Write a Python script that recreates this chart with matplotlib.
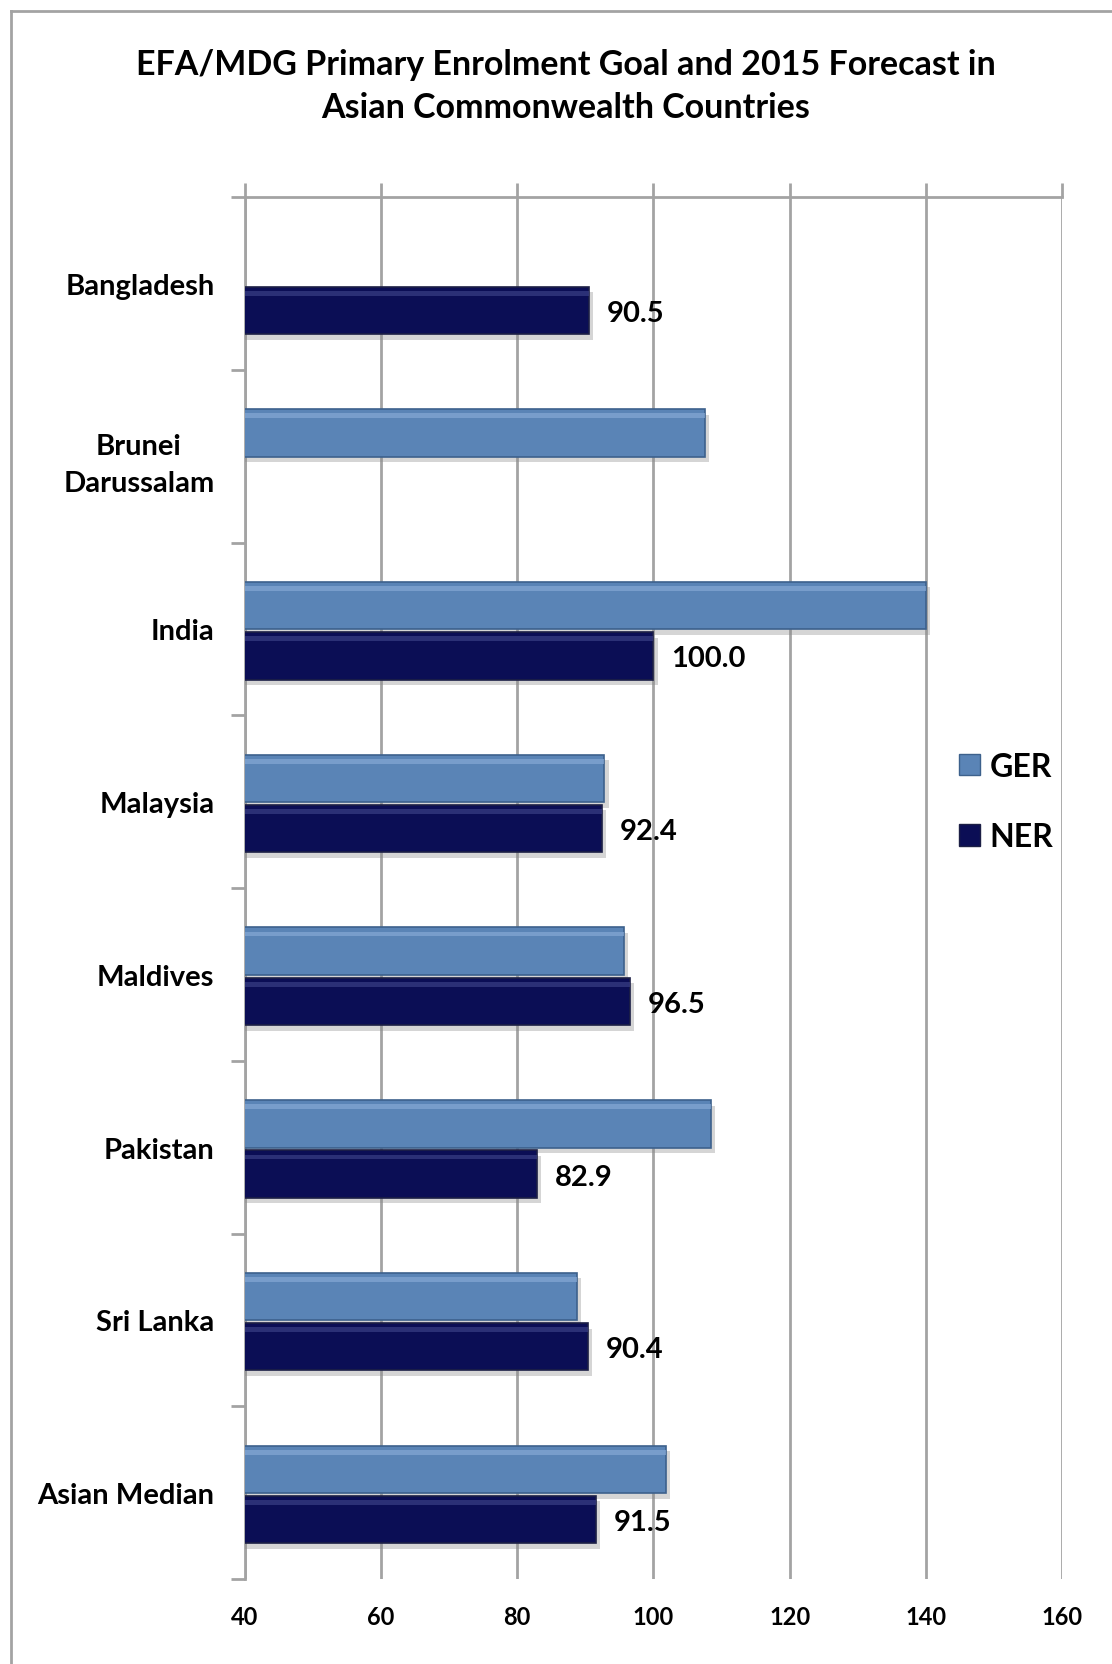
import numpy as np
import matplotlib
matplotlib.use("Agg")
from matplotlib import pyplot as plt
from matplotlib import patheffects as pe
from matplotlib.patches import Patch
from matplotlib.lines import Line2D

# data
countries = ['Bangladesh', 'Brunei\nDarussalam', 'India', 'Malaysia', 'Maldives',
             'Pakistan', 'Sri Lanka', 'Asian Median']
ger = [np.nan, 107.6, 140.0, 92.8, 95.7, 108.4, 88.7, 101.8]
ner = [90.5, np.nan, 100.0, 92.4, 96.5, 82.9, 90.4, 91.5]
ner_labels = ['90.5', '', '100.0', '92.4', '96.5', '82.9', '90.4', '91.5']
xticks = [40, 60, 80, 100, 120, 140, 160]

ger_col = '#5a84b6'
ner_col = '#0b0e55'
grid_col = '#a3a3a3'

plt.rcParams['font.family'] = ['Lato', 'DejaVu Sans']
plt.rcParams['font.weight'] = 'bold'

fig = plt.figure(figsize=(11.12, 16.65), dpi=100)
ax = fig.add_axes([0.2203, 0.051, 0.7347, 0.830])

y = np.arange(len(countries))
h = 0.275
shadow = [pe.SimplePatchShadow(offset=(3, -4), shadow_rgbFace='#888888', alpha=0.35), pe.Normal()]

b1 = ax.barh(y - 0.135, ger, height=h, color=ger_col, edgecolor='#3d618c', linewidth=1.2, zorder=3)
b2 = ax.barh(y + 0.155, ner, height=h, color=ner_col, edgecolor='#1c1f45', linewidth=1.2, zorder=3)
for b in list(b1) + list(b2):
    b.set_path_effects(shadow)
# bevel highlight strips
ax.barh(y - 0.135 - h * 0.36, ger, height=h * 0.1, color='#86a8d4', alpha=0.7, linewidth=0, zorder=4)
ax.barh(y + 0.155 - h * 0.36, ner, height=h * 0.1, color='#3a3f85', alpha=0.7, linewidth=0, zorder=4)

for yi, v, s in zip(y, ner, ner_labels):
    if s:
        ax.text(v + 2.6, yi + 0.17, s, fontsize=21, fontweight='bold', va='center', ha='left', zorder=5)

ax.set_xlim(40, 160)
ax.set_ylim(len(countries) - 0.5, -0.5)
ax.set_xticks(xticks)
ax.set_xticklabels([str(t) for t in xticks], fontsize=17, fontweight='bold')
ax.set_yticks(y)
ax.set_yticklabels(countries, fontsize=21, fontweight='bold')
for lab in ax.get_yticklabels():
    lab.set_multialignment('center')
    lab.set_linespacing(1.55)
ax.set_yticks(np.arange(len(countries) + 1) - 0.5, minor=True)

ax.tick_params(axis='x', bottom=False, top=True, labelbottom=True, labeltop=False,
               direction='out', length=10, width=2, color=grid_col, pad=9)
ax.tick_params(axis='y', which='major', length=0, pad=22)
ax.tick_params(axis='y', which='minor', length=10, width=2, color=grid_col, direction='out')

ax.grid(axis='x', color=grid_col, linewidth=2, zorder=0)
ax.set_axisbelow(True)
for s in ['bottom', 'right']:
    ax.spines[s].set_visible(False)
for s in ['top', 'left']:
    ax.spines[s].set_color(grid_col)
    ax.spines[s].set_linewidth(2)

fig.text(0.509, 0.948, 'EFA/MDG Primary Enrolment Goal and 2015 Forecast in\nAsian Commonwealth Countries',
         ha='center', va='center', fontsize=24.5, fontweight='bold', linespacing=1.45)

handles = [Patch(facecolor=ger_col, edgecolor='#3d618c'), Patch(facecolor=ner_col, edgecolor='#1c1f45')]
fig.legend(handles, ['GER', 'NER'], loc='center left', bbox_to_anchor=(0.837, 0.518),
           frameon=False, fontsize=23, handlelength=0.65, handleheight=0.65,
           handletextpad=0.3, labelspacing=1.3)

# outer frame of the chart area
fig.add_artist(Line2D([0.0095, 0.0095], [0.0, 0.993], color=grid_col, linewidth=2))
fig.add_artist(Line2D([0.0095, 1.0], [0.993, 0.993], color=grid_col, linewidth=2))

fig.savefig('out.png', dpi=100)
